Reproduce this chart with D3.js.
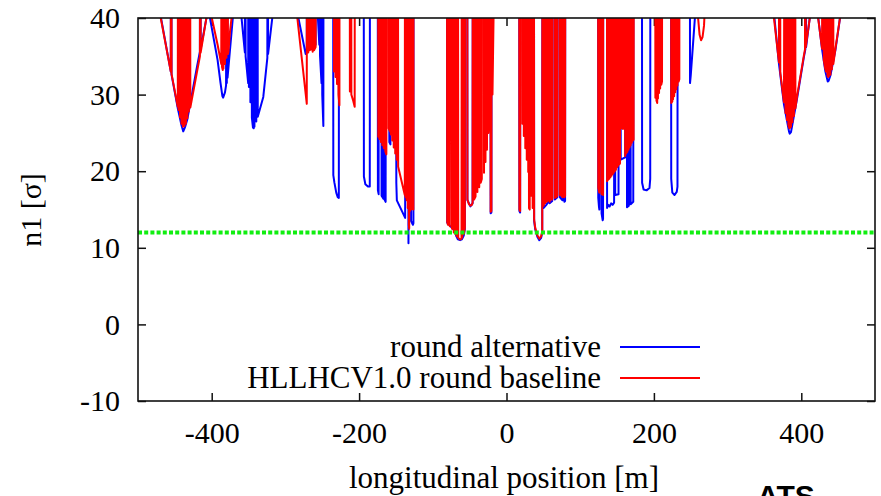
<!DOCTYPE html>
<html>
<head>
<meta charset="utf-8">
<script src="https://cdn.jsdelivr.net/npm/d3@7"></script>
<style>
  body { margin: 0; background: #fff; }
  .serif { font-family: "Liberation Serif", "Times New Roman", serif; fill: #000; }
  .stamp { font-family: "Liberation Sans", Arial, sans-serif; font-weight: bold; fill: #000; }
</style>
</head>
<body>
<svg id="chart" width="881" height="496"></svg>
<script>
// Axis ticks and reference level
const xTicks = [-400, -200, 0, 200, 400];
const yTicks = [-10, 0, 10, 20, 30, 40];
const n1Limit = 12;

// Legend
const seriesNames = ["round alternative", "HLLHCV1.0 round baseline"];
const seriesColors = ["#0000ff", "#ff0000"];

// n1 along the insertion: [s (m), n1 (sigma)]; 100 marks drifts without aperture (off scale)
const roundAlternative = [
  [-500,100],[-476,43.8],[-455.5,33.0],[-455,100],[-454.5,32.6],[-446,28.2],[-441,26.0],[-438.6,25.2],[-436,25.8],[-433,26.8],[-420,33.6],[-416,35.6],[-415.5,100],[-415,35.9],[-406,40.6],[-405,100],
  [-403.5,40.6],[-392,34.5],[-388,31.5],[-385.5,29.8],[-384.5,29.6],[-382,30.3],[-380.5,31.2],[-380,100],[-379.5,31.5],[-379,100],[-378.5,32.2],[-371,40.4],[-369,100],
  [-361,41.5],[-355,35.5],[-354.5,100],[-354,35.0],[-350.5,31.5],[-350,100],[-349.5,31.0],[-348,100],[-347.5,29.0],[-346,100],[-345.5,27.0],[-344,25.7],[-343,25.6],[-342.5,100],[-342,25.8],[-340,100],[-339.5,26.5],[-338,100],[-337.5,27.1],[-330,29.7],[-324.5,34.8],[-324,100],[-323.5,35.3],[-316,41.5],[-314,100],
  [-287,100],[-285.5,41.5],[-272.5,35.3],[-271,35.5],[-270.5,100],[-269.5,100],[-269,35.8],[-259,36.5],[-258.5,100],
  [-256.5,100],[-256,40.2],[-254,36.5],[-253.5,100],[-253,35.0],[-251,31.5],[-250.5,100],[-250,30.0],[-248.5,25.9],[-248,100],
  [-235.5,100],[-235,19.5],[-233.5,18.5],[-231,17.2],[-229,16.6],[-227.5,16.5],[-227,100],
  [-194,100],[-193.5,19.3],[-191.5,18.3],[-188,18.0],[-185.5,18.0],[-185,100],
  [-175,100],[-174.5,17.5],[-173.5,17.0],[-173,100],[-170,100],[-169.5,16.8],[-167,16.4],[-166.5,100],[-166,16.4],[-164,16.0],[-163.5,100],
  [-159.5,100],[-159,23.8],[-157.5,23.5],[-157,100],[-150,100],[-149.5,18.5],[-148.8,16.2],[-137.5,13.9],[-137,100],
  [-133.5,100],[-133,10.6],[-132.5,100],[-130,100],[-129.5,13.5],[-127,13.0],[-126.3,13.2],[-126,100],
  [-81,100],[-80.5,13.3],[-77,12.9],[-74,12.6],[-71,12.3],[-70.5,100],[-69,100],[-68.5,11.6],[-66,11.1],[-63,11.0],[-60.5,11.1],[-58,11.6],[-56.5,12.4],[-56,100],
  [-53.5,100],[-53,16.2],[-49,15.4],[-46,15.8],[-45.5,100],[-22,100],[-21.5,14.5],[-20.5,14.6],[-20,100],
  [17,100],[17.5,14.8],[18.5,14.6],[19,100],[37,100],[37.5,13.5],[39,12.4],[42,11.4],[44.5,11.0],[47,11.3],[48.5,12.0],[49,100],
  [50,100],[50.5,15.2],[54,15.6],[56,15.9],[56.5,100],[58,100],[58.5,15.8],[62,16.1],[62.5,100],[65,100],[65.5,16.3],[69,16.6],[69.5,100],[72,100],[72.5,16.6],[76,16.2],[77,100],[78,100],[78.5,16.0],[79.5,16.1],[80,100],
  [124,100],[124.5,16.5],[125.5,15.3],[126,15.0],[126.5,100],[128.5,100],[129,14.5],[130.5,13.6],[131,13.8],[131.5,100],
  [136,100],[136.5,15.2],[138,15.6],[140,15.4],[142,15.8],[144,15.6],[146,15.9],[146.5,100],[147,100],[147.5,16.9],[152,17.0],[152.5,100],
  [154.5,100],[155,21.5],[161,21.8],[161.5,100],[163,100],[163.5,15.3],[166,15.5],[166.5,100],[168,100],[168.5,15.7],[172,16.0],[172.5,100],
  [183.5,100],[184,18.5],[186,17.6],[190,17.5],[194,17.8],[195,19.0],[195.5,100],
  [223,100],[223.5,19.0],[225,17.2],[228,16.9],[231,17.3],[232,18.0],[232.5,100],
  [248.5,100],[249,31.5],[250,32.5],[253,36.5],[256,40.5],[257,100],
  [360,100],[362,41.5],[369.7,34.0],[376.5,28.7],[383.3,25.2],[384.3,24.9],[386,25.1],[394.3,29.5],[403.3,34.8],[405.5,35.9],[406,100],[406.5,36.2],[413,41.2],[415,100],
  [420,100],[421.5,41.2],[428.2,35.9],[432.7,33.0],[435.9,31.7],[437,31.8],[439.5,32.5],[446.3,35.8],[454,41.0],[456,100],
  [500,100]
];

const roundBaseline = [
  [-500,100],[-476,43.5],[-455.5,33.0],[-455,100],[-454.5,32.7],[-446,28.4],[-445.5,100],[-445,28.0],[-443.5,100],[-443,27.0],[-441.5,100],[-441,26.2],[-439.5,100],[-439,25.8],[-437.5,100],[-437,25.9],[-435.5,100],[-435,26.2],[-433.5,100],[-433,26.9],[-431.5,100],[-431,27.8],[-429.5,100],[-429,28.3],[-416,35.0],[-415.5,100],[-415,35.5],[-406.5,40.4],[-405.5,100],
  [-401.5,100],[-400.5,40.3],[-392,36.5],[-387,34.0],[-386.5,100],[-386,33.6],[-385,33.2],[-384.5,100],[-384,33.4],[-382.5,100],[-382,34.0],[-380.5,100],[-380,34.8],[-378.5,100],[-378,35.3],[-377.3,35.6],[-375,38.4],[-372.5,40.5],[-371,100],
  [-287,100],[-285.5,41.5],[-271,28.8],[-270.5,100],[-269.5,100],[-269,35.5],[-267.5,100],[-267,35.8],[-265.5,100],[-265,35.9],[-263.5,100],[-263,35.6],[-261.5,100],[-261,35.8],[-259,36.2],[-258.5,100],
  [-234.5,100],[-234,33.0],[-232.5,100],[-232,32.3],[-230.5,100],[-230,31.4],[-228.5,100],[-228,30.0],[-226.7,28.6],[-226.3,100],
  [-213,100],[-212.5,30.4],[-211,100],[-210.5,30.0],[-208,29.2],[-206,28.4],[-205.5,100],
  [-174.5,100],[-174,24.5],[-173,100],[-172.5,24.2],[-171,100],[-170.5,23.8],[-169,100],[-168.5,23.4],[-167,100],[-166.5,23.0],[-165,100],[-164.5,22.6],[-163,22.2],[-162.5,100],
  [-160.5,100],[-160,25.6],[-158,25.2],[-157.5,100],[-157,24.8],[-155.5,100],[-155,24.0],[-153.5,100],[-153,23.1],[-151.5,100],[-151,22.3],[-149.5,100],[-149,21.5],[-147.5,100],[-147,20.6],[-138,16.9],[-137.5,100],
  [-137,16.6],[-136,100],[-135.5,16.2],[-134.5,100],[-134,15.2],[-133,100],[-132.5,13.0],[-132,12.5],[-131.5,100],[-131,14.8],[-130,100],[-129.5,15.0],[-128.5,15.1],[-128,100],[-127.5,15.1],[-126.3,15.0],[-126,100],
  [-81,100],[-80.5,13.4],[-79.5,13.0],[-79,100],[-77.5,100],[-77,12.8],[-75.5,100],[-74.5,100],[-74,12.5],[-72.5,100],[-71.5,12.0],[-70,100],[-69.5,11.8],[-68,100],[-67.5,11.5],[-66,100],[-65.5,11.3],[-63,11.1],[-61,11.2],[-60.5,100],[-60,11.4],[-58.5,100],[-58,11.8],[-56.5,12.6],[-56,100],
  [-53.5,100],[-53,16.3],[-51,15.7],[-49,15.5],[-47,15.6],[-46,15.9],[-45.5,100],[-44.5,100],[-44,16.3],[-42,16.7],[-41.5,100],[-40,100],[-39.5,17.3],[-38,100],[-37,17.9],[-35.5,100],[-35,18.5],[-33.5,19.0],[-33,100],
  [-31,100],[-30.5,19.8],[-29,100],[-28.5,21.2],[-27,100],[-26.5,22.8],[-25,100],[-24.5,25.0],[-23,26.8],[-22.5,100],[-22,100],[-21.5,14.7],[-20.5,14.8],[-20,100],[-19.5,100],[-19,30.0],[-17.5,40.5],[-17,100],
  [17,100],[17.5,15.0],[18.5,14.8],[19,100],[21,100],[21.5,26.2],[23,100],[23.5,24.6],[25,100],[25.5,23.0],[27,100],[27.5,21.5],[29,100],[29.5,19.9],[30,100],[30.5,15.2],[31.5,15.0],[32,100],
  [33,100],[33.5,16.8],[35,100],[35.5,15.2],[37,100],[37.5,13.7],[39,12.6],[42,11.6],[44.5,11.2],[47,11.5],[48.5,12.2],[49,100],
  [50,100],[50.5,15.5],[52,100],[52.5,15.8],[54,100],[54.5,16.0],[56,16.2],[56.5,100],[58,100],[58.5,16.0],[60,100],[60.5,16.3],[62,16.3],[62.5,100],
  [65,100],[65.5,16.5],[67,100],[67.5,16.6],[69,16.8],[69.5,100],[72,100],[72.5,16.9],[74,100],[74.5,16.8],[76,16.6],[77,100],[78,100],[78.5,16.6],[79.5,16.8],[80,100],
  [124,100],[124.5,17.8],[126,17.2],[126.5,100],[128.5,100],[129,17.0],[131,16.9],[131.5,100],
  [136,100],[136.5,18.7],[137.5,100],[138,18.9],[139,100],[139.5,19.0],[140.5,100],[141,19.2],[142,100],[142.5,19.4],[143.5,100],[144,19.6],[145,100],[145.5,19.8],[146.5,100],[147,20.0],[148,100],[148.5,20.2],[149.5,100],[150,20.5],[151,100],[151.5,20.7],[152.5,100],[153,20.9],[154,21.0],[154.5,100],
  [155,25.8],[156,100],[156.5,25.6],[157.5,100],[158,25.5],[159,100],[159.5,25.6],[160.5,100],[161,22.0],[162,100],[162.5,22.3],[163.5,100],[164,22.5],[165,100],[165.5,22.8],[166.5,100],[167,23.1],[168,100],[168.5,23.4],[169.5,100],[170,23.7],[171,100],[171.5,24.0],[172.5,24.1],[173,100],
  [201.5,100],[202,29.6],[203,100],[203.5,29.2],[204.5,28.9],[205,100],[205.5,29.5],[206.5,100],[207,30.2],[208,100],[208.5,30.8],[209.5,100],[210,31.3],[211,31.7],[211.5,100],
  [223,100],[223.5,28.9],[225,29.1],[225.5,100],[226,29.4],[227,100],[227.5,29.8],[228.5,100],[229,30.3],[230,100],[230.5,30.7],[231.5,100],[232,31.2],[233,100],[233.5,31.7],[234.5,32.0],[235,100],
  [258.5,100],[259.5,40.5],[262,37.8],[264,37.1],[266,37.5],[268,39.0],[269,41.0],[270,100],
  [360,100],[361,41.6],[369.7,34.2],[370,100],[371,100],[371.5,32.9],[376.5,29.0],[378,100],[378.5,27.6],[380,100],[380.5,26.7],[382,100],[382.5,26.0],[384,25.6],[385,25.7],[385.5,100],[386,25.8],[387.5,100],[388,26.4],[389.5,100],[390,27.2],[391.5,100],[392,28.2],[394.3,29.8],[403.3,35.0],[405,35.9],[405.5,100],[406,36.2],[413,41.0],[415,100],
  [420,100],[421.5,41.0],[428.2,36.0],[429,100],[430,100],[430.5,34.5],[432.7,33.3],[433,100],[433.5,33.0],[435,100],[435.5,32.5],[436.5,32.3],[437,100],[437.5,32.4],[439,100],[439.5,32.6],[441,100],[441.5,33.3],[443,100],[443.5,34.0],[446.3,36.0],[454,41.0],[456,100],
  [500,100]
];

const plot = { left: 138, right: 875, top: 18, bottom: 401 };
const svg = d3.select("#chart");

const x = d3.scaleLinear().domain([-500, 500]).range([plot.left, plot.right]);
const y = d3.scaleLinear().domain([-10, 40]).range([plot.bottom, plot.top]);

svg.append("defs").append("clipPath").attr("id", "plot-clip")
  .append("rect")
  .attr("x", plot.left).attr("y", plot.top)
  .attr("width", plot.right - plot.left).attr("height", plot.bottom - plot.top);

const fmt = d => String(d);
const styleAxis = g => {
  g.attr("font-family", null).attr("font-size", null);
  g.select(".domain").remove();
  g.selectAll(".tick line").attr("stroke", "#111").attr("stroke-width", 1.5);
  g.selectAll("text").attr("class", "serif").attr("font-size", 30).attr("fill", "#000");
};

// Inward ticks on all four sides, labels bottom and left
svg.append("g").attr("transform", `translate(0,${plot.bottom})`)
  .call(d3.axisBottom(x).tickValues(xTicks).tickSize(-8).tickSizeOuter(0).tickPadding(21).tickFormat(fmt))
  .call(styleAxis);
svg.append("g").attr("transform", `translate(0,${plot.top})`)
  .call(d3.axisTop(x).tickValues(xTicks).tickSize(-8).tickSizeOuter(0).tickFormat(""))
  .call(styleAxis);
svg.append("g").attr("transform", `translate(${plot.left},0)`)
  .call(d3.axisLeft(y).tickValues(yTicks).tickSize(-8).tickSizeOuter(0).tickPadding(18).tickFormat(fmt))
  .call(styleAxis);
svg.append("g").attr("transform", `translate(${plot.right},0)`)
  .call(d3.axisRight(y).tickValues(yTicks).tickSize(-8).tickSizeOuter(0).tickFormat(""))
  .call(styleAxis);

// n1 curves
const line = d3.line().x(d => x(d[0])).y(d => y(d[1]));
const curves = svg.append("g").attr("clip-path", "url(#plot-clip)");
[roundAlternative, roundBaseline].forEach((data, i) => {
  curves.append("path")
    .datum(data)
    .attr("d", line)
    .attr("fill", "none")
    .attr("stroke", seriesColors[i])
    .attr("stroke-width", 2)
    .attr("stroke-linejoin", "round");
});

// n1 acceptance limit
curves.append("line")
  .attr("x1", x(-500)).attr("x2", x(500))
  .attr("y1", y(n1Limit)).attr("y2", y(n1Limit))
  .attr("stroke", "#11ee11")
  .attr("stroke-width", 4)
  .attr("stroke-dasharray", "4 2.2");

// Frame
svg.append("rect")
  .attr("x", plot.left).attr("y", plot.top)
  .attr("width", plot.right - plot.left).attr("height", plot.bottom - plot.top)
  .attr("fill", "none").attr("stroke", "#111").attr("stroke-width", 1.6);

// Legend
const legend = svg.append("g");
seriesNames.forEach((name, i) => {
  const baseY = 357 + i * 31;
  legend.append("text")
    .attr("class", "serif")
    .attr("x", 601).attr("y", baseY)
    .attr("text-anchor", "end")
    .attr("font-size", 31)
    .text(name);
  legend.append("line")
    .attr("x1", 620).attr("x2", 700)
    .attr("y1", baseY - 10).attr("y2", baseY - 10)
    .attr("stroke", seriesColors[i]).attr("stroke-width", 2);
});

// Axis titles
svg.append("text")
  .attr("class", "serif")
  .attr("x", 504).attr("y", 488)
  .attr("text-anchor", "middle")
  .attr("font-size", 31)
  .text("longitudinal position [m]");

svg.append("text")
  .attr("class", "serif")
  .attr("transform", "translate(41,210) rotate(-90)")
  .attr("text-anchor", "middle")
  .attr("font-size", 30)
  .text("n1 [σ]");

svg.append("text")
  .attr("class", "stamp")
  .attr("x", 757).attr("y", 506)
  .attr("font-size", 30)
  .text("ATS");
</script>
</body>
</html>
